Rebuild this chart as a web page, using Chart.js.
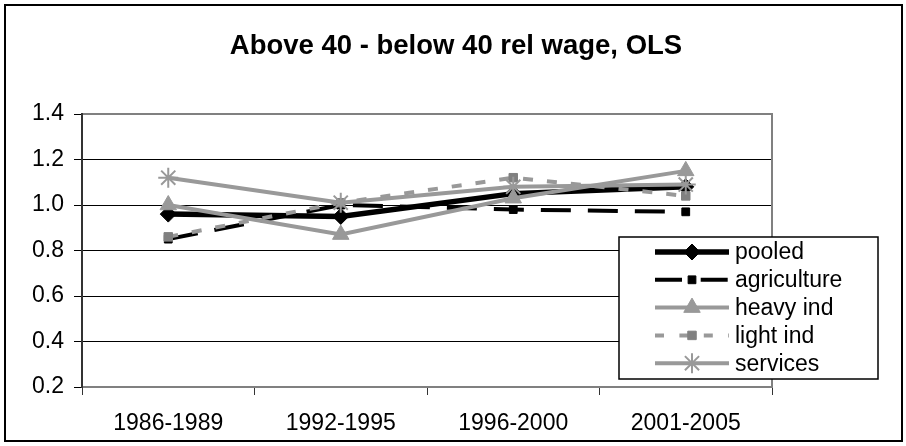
<!DOCTYPE html>
<html>
<head>
<meta charset="utf-8">
<script src="https://cdn.jsdelivr.net/npm/chart.js@4/dist/chart.umd.min.js"></script>
<style>
  html, body { margin: 0; padding: 0; background: #fff; }
  #wrap { width: 906px; height: 446px; position: relative; }
</style>
</head>
<body>
<div id="wrap"><canvas id="myChart" width="906" height="446"></canvas></div>
<script>
// data
const categories = ['1986-1989', '1992-1995', '1996-2000', '2001-2005'];
const pooled = [0.96, 0.95, 1.05, 1.08];
const agriculture = [0.85, 1.00, 0.98, 0.97];
const heavyInd = [1.00, 0.87, 1.03, 1.15];
const lightInd = [0.86, 1.01, 1.12, 1.04];
const services = [1.12, 1.01, 1.08, 1.09];
const yMin = 0.2, yMax = 1.4, yStep = 0.2;
const chartTitle = 'Above 40 - below 40 rel wage, OLS';

const FONT = "'Liberation Sans', Arial, sans-serif";
const GRAY = '#999999';

function series(label, data, color, width, dash, style, radius, ptColor) {
  return {
    label: label,
    data: data,
    borderColor: color,
    backgroundColor: ptColor || color,
    borderWidth: width,
    borderDash: dash,
    tension: 0,
    pointStyle: style,
    pointRadius: radius,
    pointHoverRadius: radius,
    pointBackgroundColor: ptColor || color,
    pointBorderColor: ptColor || color,
    pointBorderWidth: style === 'star' ? 2 : 1
  };
}

const datasets = [
  series('pooled', pooled, '#000', 5.5, [], 'rectRot', 8),
  series('agriculture', agriculture, '#000', 4, [30, 17], 'rect', 5.5),
  series('heavy ind', heavyInd, GRAY, 4, [], 'triangle', 9.5),
  series('light ind', lightInd, GRAY, 4, [10, 14], 'rect', 6, '#808080'),
  series('services', services, GRAY, 4, [], 'star', 10)
];
// later series on top, like the original
datasets.forEach((d, i) => { d.order = datasets.length - i; });

function marker(ctx, ds, x, y) {
  if (Chart.helpers && Chart.helpers.drawPoint) {
    ctx.save();
    ctx.setLineDash([]);
    ctx.fillStyle = ds.pointBackgroundColor;
    ctx.strokeStyle = ds.pointBorderColor;
    ctx.lineWidth = ds.pointBorderWidth;
    Chart.helpers.drawPoint(ctx, { pointStyle: ds.pointStyle, radius: ds.pointRadius, rotation: 0, borderWidth: ds.pointBorderWidth }, x, y);
    ctx.restore();
  }
}

const framePlugin = {
  id: 'frame',
  beforeDraw(chart) {
    const c = chart.ctx;
    c.save();
    c.fillStyle = '#fff';
    c.fillRect(0, 0, chart.width, chart.height);
    c.restore();
  },
  beforeDatasetsDraw(chart) {
    const c = chart.ctx, a = chart.chartArea;
    c.save();
    c.lineWidth = 2;
    c.strokeStyle = '#808080';
    c.beginPath();
    c.moveTo(a.left, a.top);
    c.lineTo(a.right, a.top);
    c.lineTo(a.right, a.bottom);
    c.lineTo(a.left, a.bottom);
    c.stroke();
    c.strokeStyle = '#333';
    c.beginPath();
    c.moveTo(a.left, a.top - 1);
    c.lineTo(a.left, a.bottom + 1);
    c.stroke();
    c.restore();
  },
  afterDraw(chart) {
    const c = chart.ctx;
    c.save();
    // outer border
    c.strokeStyle = '#000';
    c.lineWidth = 2;
    c.strokeRect(5, 5, 897, 436);

    // title, centred on the whole picture
    c.fillStyle = '#000';
    c.font = 'bold 27.5px ' + FONT;
    c.textAlign = 'center';
    c.textBaseline = 'middle';
    c.fillText(chartTitle, 456, 46);

    // legend box
    const lx = 619, ly = 237, lw = 259, lh = 142;
    c.fillStyle = '#fff';
    c.fillRect(lx, ly, lw, lh);
    c.lineWidth = 1.5;
    c.strokeRect(lx, ly, lw, lh);
    c.font = '23px ' + FONT;
    c.textBaseline = 'middle';
    c.textAlign = 'left';
    chart.data.datasets.forEach((ds, i) => {
      const y = 252 + i * 27.8;
      c.save();
      c.strokeStyle = ds.borderColor;
      c.lineWidth = ds.borderWidth;
      c.setLineDash(ds.borderDash.length ? [ds.borderDash[0] * 0.9, ds.borderDash[1] * 1.1] : []);
      c.beginPath();
      c.moveTo(655, y);
      c.lineTo(729, y);
      c.stroke();
      c.restore();
      marker(c, ds, 692, y);
      c.fillStyle = '#000';
      c.fillText(ds.label, 735, y + 1);
    });
    c.restore();
  }
};

const ctx = document.getElementById('myChart');
const myChart = new Chart(ctx, {
  type: 'line',
  data: { labels: categories, datasets: datasets },
  options: {
    responsive: false,
    animation: false,
    layout: { padding: { left: 0, top: 114, right: 134, bottom: 0 } },
    plugins: {
      legend: { display: false },
      tooltip: { enabled: false },
      title: { display: false }
    },
    scales: {
      x: {
        offset: true,
        afterFit: s => { s.height = 59; },
        grid: { offset: true, drawOnChartArea: false, tickLength: 8, color: '#333', lineWidth: 1 },
        border: { display: false },
        ticks: { color: '#000', font: { family: FONT, size: 23 }, padding: 15, maxRotation: 0 }
      },
      y: {
        min: yMin,
        max: yMax,
        afterFit: s => { s.width = 82; },
        grid: { color: '#000', lineWidth: 1, tickLength: 8 },
        border: { display: false },
        ticks: {
          stepSize: yStep,
          color: '#000',
          padding: 10,
          font: { family: FONT, size: 23 },
          callback: v => Number(v).toFixed(1)
        }
      }
    }
  },
  plugins: [framePlugin]
});
</script>
</body>
</html>
